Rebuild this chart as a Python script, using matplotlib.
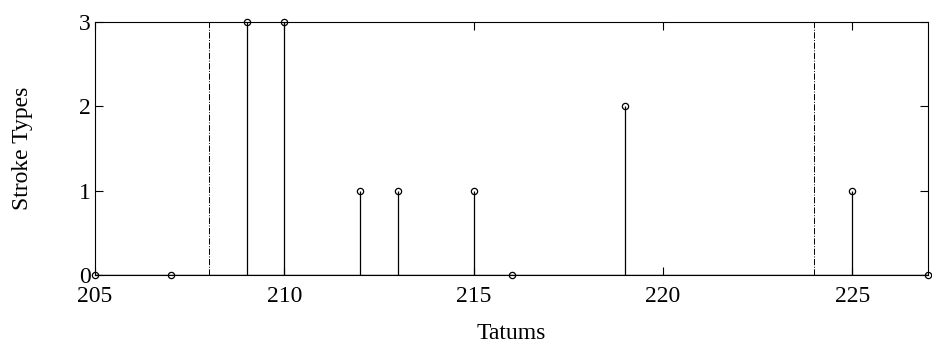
import numpy as np
import matplotlib.pyplot as plt

plt.rcParams['font.family'] = ['Liberation Serif', 'DejaVu Serif']

# stroke-type counts per tatum
tatums = [205, 207, 209, 210, 212, 213, 215, 216, 219, 225, 227]
stroke_types = [0, 0, 3, 3, 1, 1, 1, 0, 2, 1, 0]
# segment boundaries
boundaries = [208, 224]

fig = plt.figure(figsize=(9.32, 3.5), dpi=100)
ax = fig.add_axes([0.102, 0.214, 0.8937, 0.723])

markerline, stemlines, baseline = ax.stem(tatums, stroke_types, basefmt='k-')
plt.setp(stemlines, color='k', linewidth=0.9)
plt.setp(markerline, color='k', marker='o', markersize=4.5,
         markerfacecolor='none', markeredgewidth=0.9, clip_on=False)
plt.setp(baseline, linewidth=1.0)

for b in boundaries:
    ax.axvline(b, color='k', linestyle='-.', linewidth=0.7)

ax.set_xlim(205, 227)
ax.set_ylim(0, 3)
ax.set_xticks(np.arange(205, 227, 5))
ax.set_yticks([0, 1, 2, 3])
ax.tick_params(direction='in', top=True, right=True, length=6,
               labelsize=17, width=0.8)
ax.tick_params(axis='x', pad=7.5)
ax.tick_params(axis='y', pad=3)
for s in ax.spines.values():
    s.set_linewidth(0.8)

ax.set_xlabel('Tatums', fontsize=17)
ax.set_ylabel('Stroke Types', fontsize=17)
ax.xaxis.set_label_coords(0.5, -0.19)
ax.yaxis.set_label_coords(-0.0744, 0.5)

fig.savefig('out.png', dpi=100)
